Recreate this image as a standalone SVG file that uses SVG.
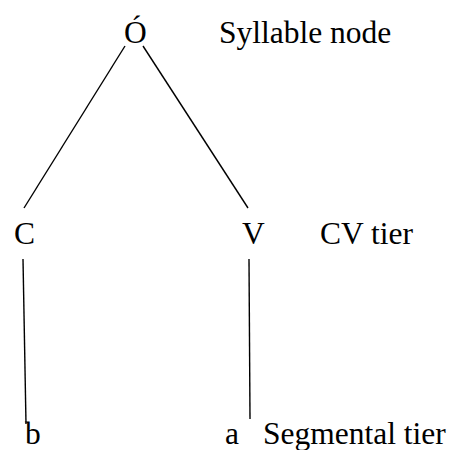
<svg xmlns="http://www.w3.org/2000/svg" width="450" height="450" viewBox="0 0 450 450">
<style>
text{font-family:"Liberation Serif","Times New Roman",serif;font-size:31.5px;fill:#000}
.ln{stroke:#000;stroke-width:1.4;fill:none}
</style>
<rect width="450" height="450" fill="#fff"/>
<g id="connectors">
<line class="ln" x1="125" y1="46" x2="24" y2="208"/>
<line class="ln" x1="143" y1="46" x2="248" y2="208"/>
<line class="ln" x1="23" y1="259" x2="26" y2="424"/>
<line class="ln" x1="249" y1="259" x2="250" y2="419"/>
</g>
<g id="syllable"><text x="124" y="43">Ó</text></g>
<g id="label-syllable"><text x="219" y="43">Syllable node</text></g>
<g id="C"><text x="14" y="244">C</text></g>
<g id="V"><text x="242" y="244">V</text></g>
<g id="label-cv"><text x="320" y="244">CV tier</text></g>
<g id="b"><text x="25" y="444">b</text></g>
<g id="a"><text x="225" y="444">a</text></g>
<g id="label-seg"><text x="263" y="444">Segmental tier</text></g>
</svg>
